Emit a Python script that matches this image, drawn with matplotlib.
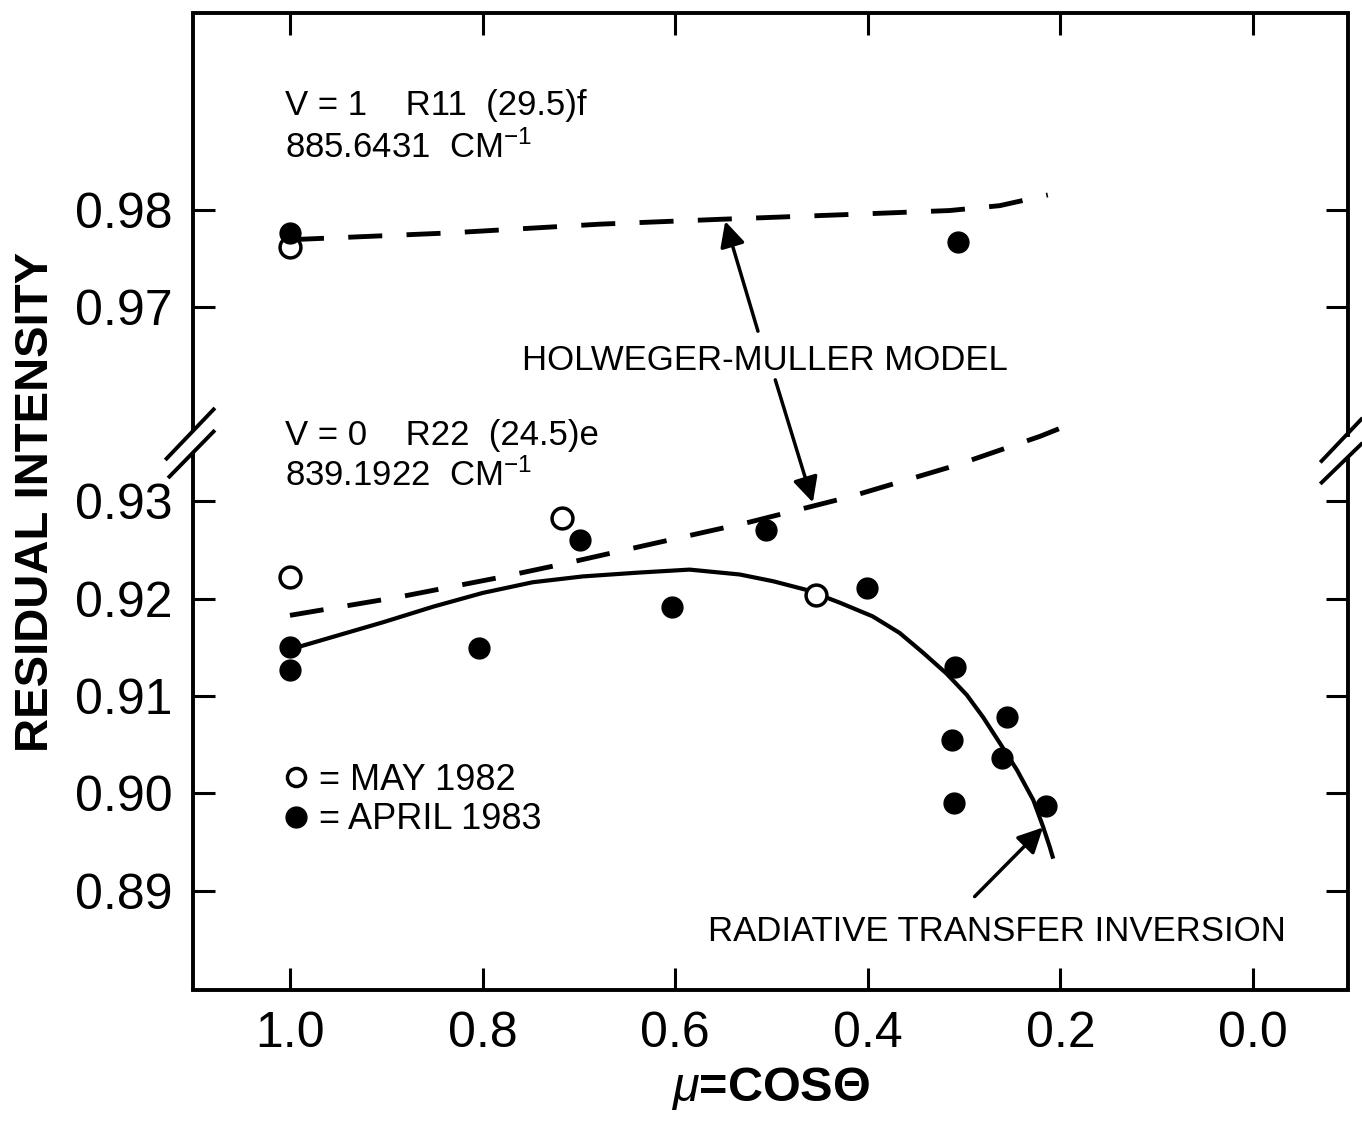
import numpy as np
import matplotlib
matplotlib.use('Agg')
import matplotlib.pyplot as plt
from matplotlib.lines import Line2D

plt.rcParams['font.family'] = ['Liberation Sans', 'DejaVu Sans']
plt.rcParams['mathtext.fontset'] = 'custom'
plt.rcParams['mathtext.rm'] = 'Liberation Sans'
plt.rcParams['mathtext.it'] = 'Liberation Sans:italic'
plt.rcParams['mathtext.bf'] = 'Liberation Sans:bold'

# upper panel values are drawn shifted down by this amount (broken axis)
UPPER_SHIFT = 0.02

# V=1 R11 line, measured points
up_open_mu = [1.0]
up_open_I = [0.9762]
up_fill_mu = [1.0, 0.306]
up_fill_I = [0.9776, 0.9767]

# V=0 R22 line, measured points
lo_open_mu = [1.0, 0.717, 0.454]
lo_open_I = [0.9222, 0.9283, 0.9204]
lo_fill_mu = [1.0, 1.0, 0.804, 0.699, 0.603, 0.506, 0.401, 0.309, 0.312, 0.310, 0.255, 0.261, 0.215]
lo_fill_I = [0.9150, 0.9127, 0.9149, 0.9260, 0.9192, 0.9271, 0.9211, 0.9130, 0.9055, 0.8990, 0.9079, 0.9036, 0.8987]

# Holweger-Muller model curves
hm_up_mu = [1.0, 0.834, 0.678, 0.553, 0.418, 0.315, 0.263, 0.213]
hm_up_I = [0.9769, 0.9776, 0.9785, 0.9790, 0.9795, 0.9799, 0.9804, 0.9815]
hm_lo_mu = [1.0, 0.886, 0.782, 0.720, 0.626, 0.522, 0.418, 0.309, 0.221, 0.183]
hm_lo_I = [0.9183, 0.9202, 0.9222, 0.9235, 0.9256, 0.9279, 0.9305, 0.9337, 0.9367, 0.9382]

# radiative transfer inversion curve
rt_mu = [1.0, 0.955, 0.903, 0.851, 0.800, 0.748, 0.696, 0.637, 0.585, 0.533, 0.498, 0.463,
         0.429, 0.395, 0.367, 0.343, 0.318, 0.297, 0.280, 0.263, 0.245, 0.228, 0.218, 0.211, 0.208]
rt_I = [0.9148, 0.9161, 0.9176, 0.9192, 0.9206, 0.9217, 0.9223, 0.9227, 0.9230, 0.9225, 0.9218, 0.9209,
        0.9196, 0.9182, 0.9165, 0.9145, 0.9123, 0.9101, 0.9078, 0.9052, 0.9024, 0.8993, 0.8966, 0.8945, 0.8935]

xticks = [1.0, 0.8, 0.6, 0.4, 0.2, 0.0]
xticklabels = ['1.0', '0.8', '0.6', '0.4', '0.2', '0.0']
yticks_real = [0.89, 0.90, 0.91, 0.92, 0.93, 0.97, 0.98]
yticklabels = ['0.89', '0.90', '0.91', '0.92', '0.93', '0.97', '0.98']


def to_plot(vals):
    # shift values from the upper segment of the broken axis
    return [v - UPPER_SHIFT if v > 0.95 else v for v in vals]


fig = plt.figure(figsize=(13.62, 11.30), dpi=100)
ax = fig.add_axes([0.1417, 0.1239, 0.8480, 0.8646])

lw_ms = dict(color='black', ls='none', markersize=15)

# model curves
ax.plot(hm_up_mu, np.array(hm_up_I) - UPPER_SHIFT, color='black', lw=3.5, ls=(0, (7, 5)))
ax.plot(hm_lo_mu, hm_lo_I, color='black', lw=3.5, ls=(0, (7, 5)))
ax.plot(rt_mu, rt_I, color='black', lw=3, solid_joinstyle='round')

# measured points
ax.plot(up_open_mu, np.array(up_open_I) - UPPER_SHIFT, marker='o', mfc='white', mec='black', mew=2.5, **lw_ms)
ax.plot(up_fill_mu, np.array(up_fill_I) - UPPER_SHIFT, marker='o', mfc='black', mec='black', **lw_ms)
ax.plot(lo_open_mu, lo_open_I, marker='o', mfc='white', mec='black', mew=2.5, zorder=3, **lw_ms)
ax.plot(lo_fill_mu, lo_fill_I, marker='o', mfc='black', mec='black', zorder=3, **lw_ms)

ax.set_xlim(1.1007, -0.0987)
ax.set_ylim(0.8798, 0.9802)
ax.set_xticks(xticks)
ax.set_xticklabels(xticklabels)
ax.set_yticks(to_plot(yticks_real))
ax.set_yticklabels(yticklabels)
ax.tick_params(direction='in', length=16, width=2.2, labelsize=36, pad=15,
               top=True, right=True)

ax.set_xlabel(r'$\mu$=COSΘ', fontsize=35, fontweight='bold', labelpad=6)
ax.set_ylabel('RESIDUAL INTENSITY', fontsize=34, fontweight='bold', labelpad=12)

# spines, with the left/right ones broken
for s in ['top', 'bottom']:
    ax.spines[s].set_linewidth(2.8)
for s in ['left', 'right']:
    ax.spines[s].set_visible(False)
kw = dict(transform=ax.transAxes, color='black', lw=2.8, clip_on=False, solid_capstyle='butt')
ax.plot([0, 0], [0, 0.550], **kw)
ax.plot([0, 0], [0.572, 1], **kw)
ax.plot([1, 1], [0, 0.546], **kw)
ax.plot([1, 1], [0.566, 1], **kw)
ax.plot([-0.024, 0.019], [0.5425, 0.5957], **kw)
ax.plot([-0.0216, 0.019], [0.524, 0.573], **kw)
ax.plot([0.976, 1.0126], [0.540, 0.5855], **kw)
ax.plot([0.976, 1.0126], [0.518, 0.560], **kw)

# line identifications
tfs = 25
ax.text(0.0797, 0.8956, 'V = 1    R11  (29.5)f', transform=ax.transAxes, fontsize=tfs, va='baseline')
ax.text(0.0797, 0.8516, '885.6431  CM$^{-1}$', transform=ax.transAxes, fontsize=tfs, va='baseline')
ax.text(0.0797, 0.558, 'V = 0    R22  (24.5)e', transform=ax.transAxes, fontsize=tfs, va='baseline')
ax.text(0.0797, 0.516, '839.1922  CM$^{-1}$', transform=ax.transAxes, fontsize=tfs, va='baseline')

ax.text((765 - 193) / 1155, 0.644, 'HOLWEGER-MULLER MODEL', transform=ax.transAxes, fontsize=tfs,
        ha='center', va='center')
ax.text((997 - 193) / 1155, (990 - 932) / 977, 'RADIATIVE TRANSFER INVERSION', transform=ax.transAxes,
        fontsize=tfs, ha='center', va='center')

ap = dict(arrowstyle='-|>', lw=2.5, color='black', mutation_scale=38, shrinkA=0, shrinkB=0)
ax.annotate('', xy=(0.548, 0.9588), xytext=(0.514, 0.9475), arrowprops=ap)
ax.annotate('', xy=(0.457, 0.9299), xytext=(0.496, 0.9425), arrowprops=ap)
ax.annotate('', xy=(0.218, 0.8965), xytext=(0.289, 0.8894), arrowprops=ap)

handles = [Line2D([], [], ls='none', marker='o', markersize=13, mfc='white', mec='black', mew=2.5),
           Line2D([], [], ls='none', marker='o', markersize=15, mfc='black', mec='black')]
ax.legend(handles, ['= MAY 1982', '= APRIL 1983'], loc='upper left', bbox_to_anchor=(0.0762, 0.2323),
          frameon=False, fontsize=26, handlelength=0.85, handletextpad=0.2, borderpad=0,
          borderaxespad=0, labelspacing=0.12)

fig.savefig('out.png', dpi=100)
